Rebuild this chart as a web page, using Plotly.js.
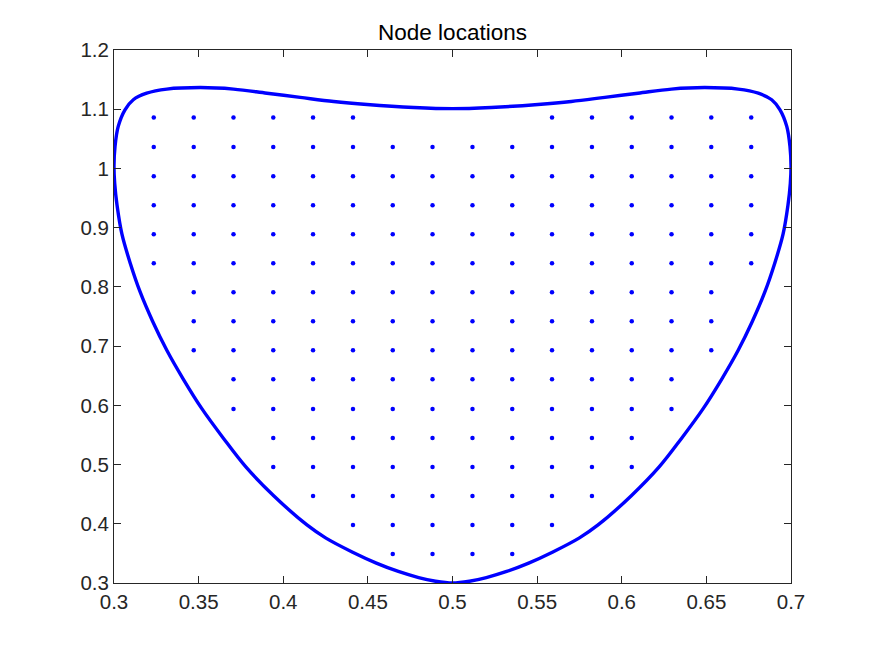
<!DOCTYPE html>
<html>
<head>
<meta charset="utf-8">
<script src="https://cdn.plot.ly/plotly-3.0.1.min.js"></script>
<style>html,body{margin:0;padding:0;background:#fff;}</style>
</head>
<body>
<div id="chart" style="width:875px;height:656px;"></div>
<script>
// Boundary of the domain, traced as a closed curve
var boundaryX = [0.500, 0.510, 0.520, 0.532, 0.545, 0.559, 0.575, 0.586, 0.6055, 0.6221, 0.6355, 0.648, 0.659, 0.6688, 0.6772, 0.6845, 0.6904, 0.6953, 0.6982, 0.6996, 0.7000, 0.6994, 0.6975, 0.6935, 0.6886, 0.6807, 0.6688, 0.649, 0.6294, 0.6096, 0.590, 0.5702, 0.5505, 0.5229, 0.500,
                 0.4771, 0.4495, 0.4298, 0.410, 0.3904, 0.3706, 0.351, 0.3312, 0.3193, 0.3114, 0.3065, 0.3025, 0.3006, 0.3000, 0.3004, 0.3018, 0.3047, 0.3096, 0.3155, 0.3228, 0.3312, 0.3410, 0.3520, 0.3645, 0.3779, 0.3945, 0.414, 0.425, 0.441, 0.455, 0.468, 0.480, 0.490, 0.500];
var boundaryY = [0.300, 0.303, 0.3092, 0.3195, 0.3336, 0.352, 0.3762, 0.398, 0.447, 0.496, 0.545, 0.594, 0.644, 0.693, 0.742, 0.791, 0.840, 0.889, 0.938, 0.975, 1.005, 1.037, 1.071, 1.099, 1.116, 1.127, 1.134, 1.1366, 1.134, 1.127, 1.120, 1.113, 1.108, 1.103, 1.101,
                 1.103, 1.108, 1.113, 1.120, 1.127, 1.134, 1.1366, 1.134, 1.127, 1.116, 1.099, 1.071, 1.037, 1.005, 0.975, 0.938, 0.889, 0.840, 0.791, 0.742, 0.693, 0.644, 0.594, 0.545, 0.496, 0.447, 0.398, 0.3762, 0.352, 0.3336, 0.3195, 0.3092, 0.303, 0.300];

// Interior node grid: column x values, row y values, and which columns appear in each row
var colX = [0.3235, 0.3471, 0.3706, 0.3941, 0.4176, 0.4412, 0.4647, 0.4882, 0.5118, 0.5353, 0.5588, 0.5824, 0.6059, 0.6294, 0.6529, 0.6765];
var rowY = [0.349, 0.398, 0.447, 0.496, 0.545, 0.594, 0.644, 0.693, 0.742, 0.791, 0.840, 0.889, 0.938, 0.987, 1.036, 1.086];
var rowSpans = [
  [[7,10]], [[6,11]], [[5,12]], [[4,13]], [[4,13]], [[3,14]], [[3,14]], [[2,15]],
  [[2,15]], [[2,15]], [[1,16]], [[1,16]], [[1,16]], [[1,16]], [[1,16]], [[1,6],[11,16]]
];

var xTicks = [0.3, 0.35, 0.4, 0.45, 0.5, 0.55, 0.6, 0.65, 0.7];
var xTickText = ['0.3','0.35','0.4','0.45','0.5','0.55','0.6','0.65','0.7'];
var yTicks = [0.3, 0.4, 0.5, 0.6, 0.7, 0.8, 0.9, 1.0, 1.1, 1.2];
var yTickText = ['0.3','0.4','0.5','0.6','0.7','0.8','0.9','1','1.1','1.2'];

var nodeX = [], nodeY = [];
for (var r = 0; r < rowY.length; r++) {
  rowSpans[r].forEach(function(s){
    for (var c = s[0]; c <= s[1]; c++) { nodeX.push(colX[c-1]); nodeY.push(rowY[r]); }
  });
}

var txt = '#262626';
var font = {family: 'Liberation Sans, Arial, sans-serif', size: 20.5, color: txt};

var traces = [
  {x: boundaryX, y: boundaryY, type: 'scatter', mode: 'lines',
   line: {color: '#0000ff', width: 3.4, shape: 'spline', smoothing: 1}, hoverinfo: 'skip'},
  {x: nodeX, y: nodeY, type: 'scatter', mode: 'markers',
   marker: {color: '#0000ff', size: 4.5, line: {width: 0}}}
];

function axis(range, tv, tt) {
  return {range: range, tickmode: 'array', tickvals: tv, ticktext: tt,
    ticks: 'inside', ticklen: 7, tickwidth: 1, tickcolor: txt,
    showline: true, linecolor: txt, linewidth: 1, mirror: 'ticks',
    showgrid: false, zeroline: false, tickfont: font, fixedrange: true};
}

var layout = {
  width: 875, height: 656,
  margin: {l: 114, r: 84, t: 50, b: 73, pad: 0},
  paper_bgcolor: '#ffffff', plot_bgcolor: '#ffffff',
  showlegend: false,
  title: {text: 'Node locations', font: {family: 'Liberation Sans, Arial, sans-serif', size: 22.5, color: '#000'},
          x: 0.5, xref: 'paper', y: 1 - 32/656, yref: 'container', yanchor: 'middle'},
  xaxis: axis([0.3, 0.7], xTicks, xTickText),
  yaxis: axis([0.3, 1.2], yTicks, yTickText)
};

Plotly.newPlot('chart', traces, layout, {staticPlot: true, displayModeBar: false});
</script>
</body>
</html>
